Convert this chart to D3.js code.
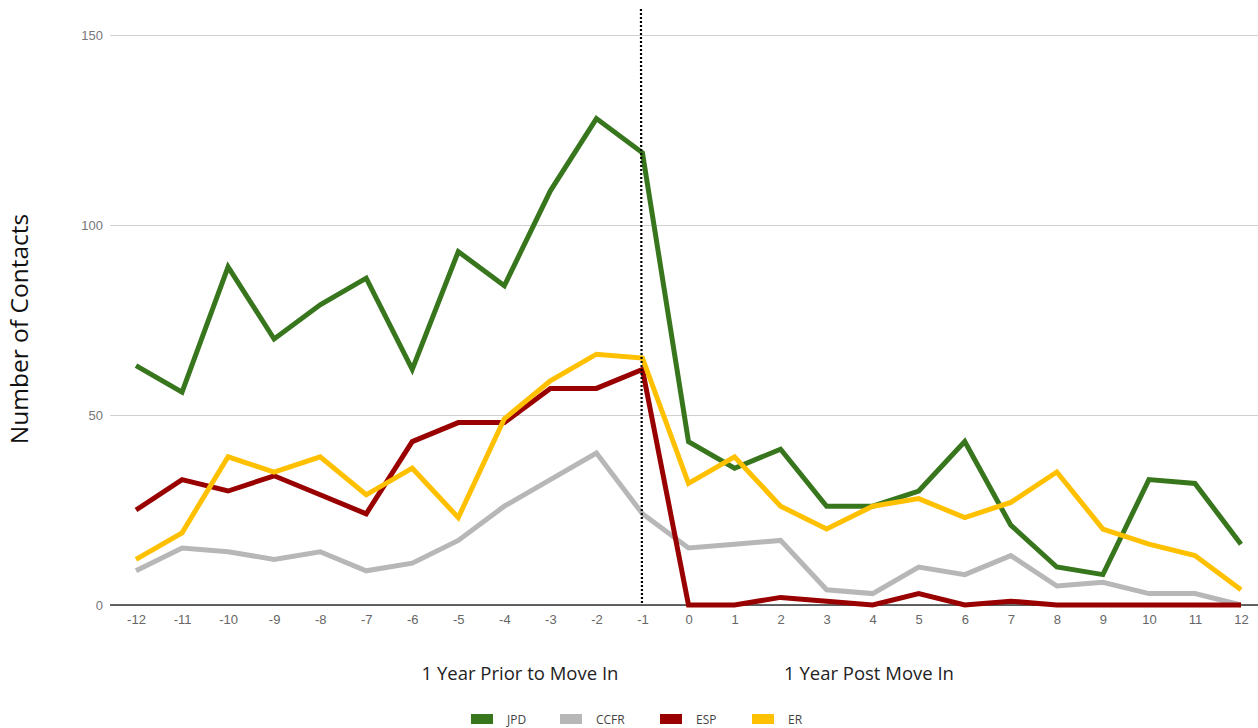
<!DOCTYPE html>
<head>
    <meta charset="utf-8">
    <script src="https://cdnjs.cloudflare.com/ajax/libs/d3/7.8.5/d3.min.js"></script>
    <style>
        html, body {
            margin: 0px;
            padding: 0px;
            background: #fff;
        }
        svg {
            display: block;
            font-family: "Open Sans", sans-serif;
        }
    </style>
</head>

<body>
<svg id="chart" width="1258" height="728"></svg>

<script>
var months = d3.range(-12, 13);
var jpd  = [63, 56, 89, 70, 79, 86, 62, 93, 84, 109, 128, 119, 43, 36, 41, 26, 26, 30, 43, 21, 10, 8, 33, 32, 16];
var ccfr = [9, 15, 14, 12, 14, 9, 11, 17, 26, 33, 40, 24, 15, 16, 17, 4, 3, 10, 8, 13, 5, 6, 3, 3, 0];
var esp  = [25, 33, 30, 34, 29, 24, 43, 48, 48, 57, 57, 62, 0, 0, 2, 1, 0, 3, 0, 1, 0, 0, 0, 0, 0];
var er   = [12, 19, 39, 35, 39, 29, 36, 23, 49, 59, 66, 65, 32, 39, 26, 20, 26, 28, 23, 27, 35, 20, 16, 13, 4];
var yTicks = [0, 50, 100, 150];
var moveIn = -1;

var series = [
    {name: "JPD",  color: "#38761d", values: jpd},
    {name: "CCFR", color: "#b7b7b7", values: ccfr},
    {name: "ESP",  color: "#990000", values: esp},
    {name: "ER",   color: "#ffc000", values: er}
];

var svg = d3.select('#chart');

var x = d3.scaleLinear().domain([-12, 12]).range([136, 1241]);
var y = d3.scaleLinear().domain([0, 150]).range([605, 35]);

// gridlines + y labels
var yAxis = d3.axisLeft(y).tickValues(yTicks).tickSize(-1148).tickPadding(7);
var gy = svg.append('g')
    .attr('transform', 'translate(110,0)')
    .call(yAxis);
gy.select('.domain').remove();
gy.selectAll('line').attr('stroke', '#d0d0d0').attr('stroke-width', 1.2);
gy.selectAll('text').attr('fill', '#777').style('font-size', '13px');

// baseline
svg.append('line')
    .attr('x1', 110).attr('x2', 1258)
    .attr('y1', y(0)).attr('y2', y(0))
    .attr('stroke', '#333').attr('stroke-width', 1.6);

// x labels (plain hyphen, like the original)
var xAxis = d3.axisBottom(x).tickValues(months).tickSize(0).tickPadding(10)
    .tickFormat(function(d) { return String(d); });
var gx = svg.append('g')
    .attr('transform', 'translate(0,' + y(0) + ')')
    .call(xAxis);
gx.select('.domain').remove();
gx.selectAll('text').attr('fill', '#666').style('font-size', '13px');

// lines
var line = d3.line()
    .x(function(d, i) { return x(months[i]); })
    .y(function(d) { return y(d); });

svg.selectAll('.series')
    .data(series)
    .enter().append('path')
    .attr('class', 'series')
    .attr('fill', 'none')
    .attr('stroke', function(d) { return d.color; })
    .attr('stroke-width', 5)
    .attr('stroke-linejoin', 'miter')
    .attr('d', function(d) { return line(d.values); });

// move in marker
svg.append('line')
    .attr('x1', x(moveIn) - 1.5).attr('x2', x(moveIn) - 0.5)
    .attr('y1', 9).attr('y2', y(0))
    .attr('stroke', '#000').attr('stroke-width', 2.2)
    .attr('stroke-dasharray', '2,2');

// y title
svg.append('text')
    .attr('transform', 'translate(28,329) rotate(-90)')
    .attr('text-anchor', 'middle')
    .style('font-size', '24.5px')
    .attr('fill', '#111')
    .text('Number of Contacts');

// section labels
svg.append('text')
    .attr('x', 520).attr('y', 680)
    .attr('text-anchor', 'middle')
    .style('font-size', '18.5px').attr('fill', '#222')
    .text('1 Year Prior to Move In');
svg.append('text')
    .attr('x', 869).attr('y', 680)
    .attr('text-anchor', 'middle')
    .style('font-size', '18.5px').attr('fill', '#222')
    .text('1 Year Post Move In');

// legend
var legendX = [471, 560, 660, 752];
var lg = svg.selectAll('.legend')
    .data(series)
    .enter().append('g')
    .attr('class', 'legend')
    .attr('transform', function(d, i) { return 'translate(' + legendX[i] + ',714)'; });
lg.append('rect')
    .attr('width', 22).attr('height', 10)
    .attr('fill', function(d) { return d.color; });
lg.append('text')
    .attr('x', 36).attr('y', 9.5)
    .style('font-size', '12px').attr('fill', '#444')
    .text(function(d) { return d.name; });
</script>

</body>
</html>
